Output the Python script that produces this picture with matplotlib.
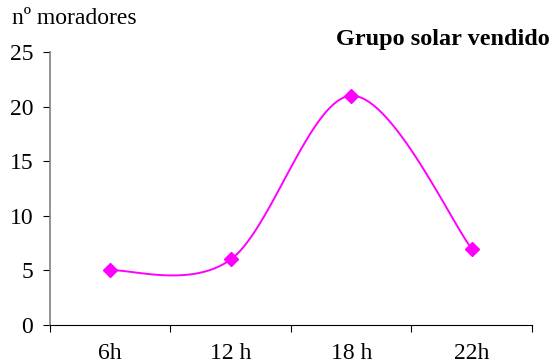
import numpy as np
import matplotlib.pyplot as plt

plt.rcParams['font.family'] = ['Liberation Serif', 'DejaVu Serif']

horas = ["6h", "12 h", "18 h", "22h"]
moradores = [5, 6, 21, 7]


def suavizar(xs, ys, n=30):
    # curva suavizada tipo Excel (Bezier / Catmull-Rom)
    px = np.concatenate([[xs[0]], xs, [xs[-1]]])
    py = np.concatenate([[ys[0]], ys, [ys[-1]]])
    cx, cy = [], []
    t = np.linspace(0, 1, n)
    for i in range(1, len(px) - 2):
        p0 = np.array([px[i], py[i]])
        p3 = np.array([px[i + 1], py[i + 1]])
        p1 = p0 + (np.array([px[i + 1], py[i + 1]]) - np.array([px[i - 1], py[i - 1]])) / 6
        p2 = p3 - (np.array([px[i + 2], py[i + 2]]) - np.array([px[i], py[i]])) / 6
        b = ((1 - t) ** 3)[:, None] * p0 + (3 * (1 - t) ** 2 * t)[:, None] * p1 \
            + (3 * (1 - t) * t ** 2)[:, None] * p2 + (t ** 3)[:, None] * p3
        cx.extend(b[:, 0])
        cy.extend(b[:, 1])
    return cx, cy


x = np.arange(len(horas))
sx, sy = suavizar(x.astype(float), np.array(moradores, dtype=float))

fig = plt.figure(figsize=(5.52, 3.64), dpi=100)
ax = fig.add_axes([0.0906, 0.1071, 0.873, 0.75])

ax.plot(sx, sy, color="#FF00FF", linewidth=1.4)
ax.plot(x, moradores, linestyle="none", marker="D", markersize=7.5, color="#FF00FF")

ax.set_xlim(-0.5, len(horas) - 0.5)
ax.set_ylim(0, 25)
ax.set_yticks([0, 5, 10, 15, 20, 25])
ax.set_xticks(np.arange(-0.5, len(horas), 1.0))
ax.set_xticklabels([])
ax.set_xticks(x, minor=True)
ax.set_xticklabels(horas, minor=True)
ax.tick_params(axis="x", which="major", length=5, direction="out", color="black")
ax.tick_params(axis="x", which="minor", length=0, pad=13, labelsize=17)
ax.tick_params(axis="y", length=5, direction="out", pad=7, labelsize=17, color="black")

ax.spines["top"].set_visible(False)
ax.spines["right"].set_visible(False)
ax.spines["left"].set_color("#808080")
ax.spines["left"].set_linewidth(1.2)
ax.spines["bottom"].set_color("black")

fig.text(12 / 552, 1 - 18 / 364, "nº moradores", fontsize=17, va="center", ha="left")
fig.text(550 / 552, 1 - 40 / 364, "Grupo solar vendido", fontsize=17.5, fontweight="bold",
         va="center", ha="right")

fig.savefig("out.png", dpi=100)
